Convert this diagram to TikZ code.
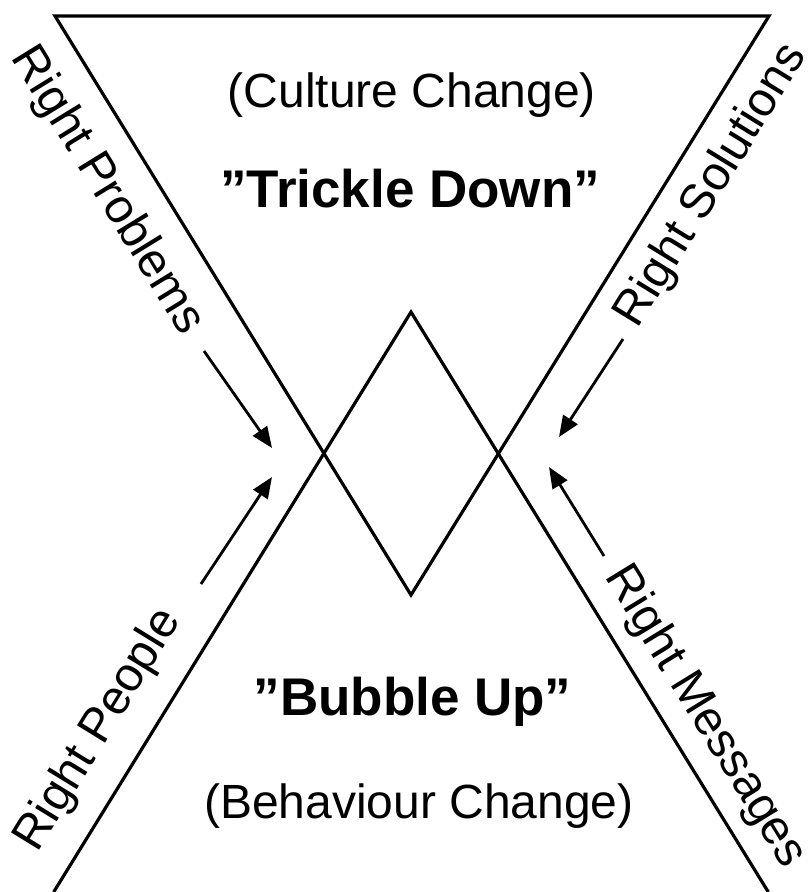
\documentclass[tikz,border=0pt]{standalone}
\usepackage{fontspec}
\setmainfont{Liberation Sans}
\usetikzlibrary{arrows.meta}
\tikzset{
  mainline/.style={line width=3.2pt, line cap=butt, line join=miter},
  inarrow/.style={line width=2.8pt, -{Triangle[length=21pt,width=17pt]}},
  sidelabel/.style={inner sep=0pt, font=\fontsize{48}{56}\selectfont},
  sublabel/.style={inner sep=0pt, anchor=base, font=\fontsize{48}{56}\selectfont},
  headlabel/.style={inner sep=0pt, anchor=base, font=\fontsize{53}{62}\selectfont\bfseries}
}
\begin{document}
\begin{tikzpicture}[x=1pt,y=-1pt]
\useasboundingbox (0,0) rectangle (809,892);
\fill[white] (0,0) rectangle (809,892);
% corner and apex points
\coordinate (TL) at (55,16);
\coordinate (TR) at (769,16);
\coordinate (BA) at (411,595);
\coordinate (TA) at (411,312);
\coordinate (BL) at (53.7,892);
\coordinate (BR) at (768.3,892);
% inverted (top) triangle
\draw[mainline] (TL) -- (TR) -- (BA) -- cycle;
% upright (bottom) triangle
\draw[mainline] (BL) -- (TA) -- (BR);
% arrows
\coordinate (p1) at (204,351); \coordinate (p2) at (272,448);
\coordinate (q1) at (201,584); \coordinate (q2) at (272,477);
\coordinate (s1) at (623,339); \coordinate (s2) at (559,437);
\coordinate (m1) at (604,556); \coordinate (m2) at (549,467);
\draw[inarrow] (p1) -- (p2);
\draw[inarrow] (q1) -- (q2);
\draw[inarrow] (s1) -- (s2);
\draw[inarrow] (m1) -- (m2);
% side labels
\node[sidelabel, rotate=-58.4] (lprob) at (107,191) {Right Problems};
\node[sidelabel, rotate=58.4] (lsol) at (712,186) {Right Solutions};
\node[sidelabel, rotate=58.4] (lpeople) at (99,730) {Right People};
\node[sidelabel, rotate=-58.4] (lmsg) at (705,717) {Right Messages};
% central labels
\node[sublabel] (culture) at (412,107) {(Culture Change)};
\node[headlabel] (trickle) at (410,207) {”Trickle Down”};
\node[headlabel] (bubble) at (412.5,715) {”Bubble Up”};
\node[sublabel] (behav) at (419,818) {(Behaviour Change)};
\end{tikzpicture}
\end{document}
